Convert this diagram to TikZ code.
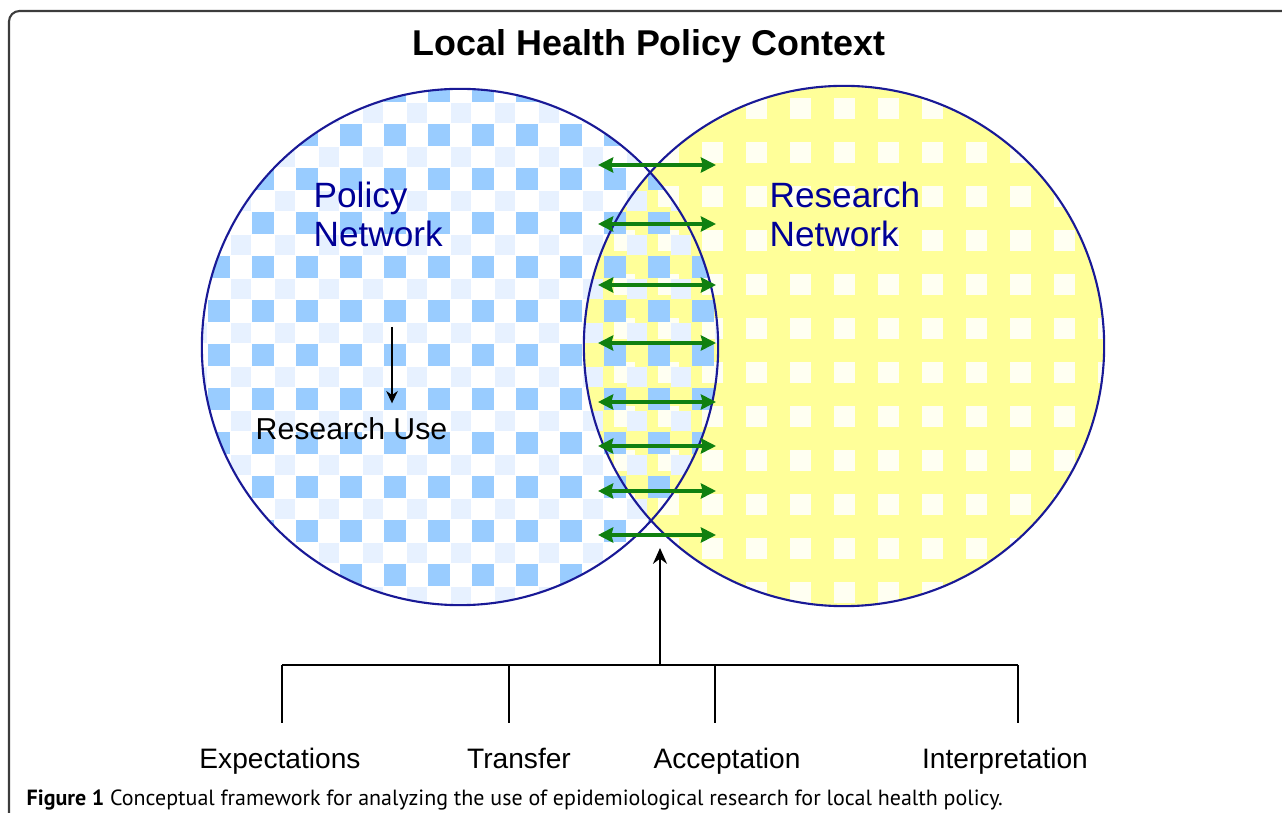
\documentclass[tikz,border=0pt]{standalone}
\usepackage{fontspec}
\setmainfont{Liberation Sans}
\newfontfamily\capfont{PT Sans}
\usetikzlibrary{positioning,arrows.meta}
\definecolor{netblue}{RGB}{0,0,150}
\definecolor{ringblue}{RGB}{25,25,150}
\definecolor{chkblue}{RGB}{153,204,255}
\definecolor{dotblue}{RGB}{231,241,255}
\definecolor{padyellow}{RGB}{255,255,153}
\definecolor{dotwhite}{RGB}{255,255,242}
\definecolor{linkgreen}{RGB}{16,128,16}
\definecolor{framegray}{RGB}{60,60,60}

\begin{document}
\begin{tikzpicture}[x=0.01cm,y=-0.01cm,>={Stealth[length=4.3pt,width=4.3pt,inset=0.5pt]},
    ring/.style={circle,draw=ringblue,line width=0.6pt,inner sep=0pt},
    net label/.style={text=netblue,anchor=base west,inner sep=0pt,font=\fontsize{10}{12}\selectfont},
    stage/.style={anchor=base,inner sep=0pt,font=\fontsize{8}{10}\selectfont},
    link/.style={<->,draw=linkgreen,line width=1.3pt},
    stem/.style={line width=0.55pt}]

    \clip (0,0) rectangle (1282,813);
    \draw[framegray,line width=0.6pt,rounded corners=3pt] (9,11) rectangle (1300,840);

    % research network: yellow with white squares
    \begin{scope}
        \clip (844,346) circle[radius=2.6cm];
        \fill[padyellow] (580,80) rectangle (1110,610);
        \foreach \i in {13,...,25}
            \foreach \j in {1,...,13}
                \fill[dotwhite] (42+44*\i,10+44*\j) rectangle ++(21,21);
    \end{scope}

    % policy network: blue checkerboard
    \begin{scope}
        \clip (460,347) circle[radius=2.58cm];
        \foreach \i in {3,...,16}
            \foreach \j in {0,...,13} {
                \fill[chkblue] (32+44*\i,36+44*\j) rectangle ++(22,22);
                \fill[dotblue] (55+44*\i,59+44*\j) rectangle ++(20,20);
            }
    \end{scope}

    \node[ring,minimum size=5.16cm] (policy) at (460,347) {};
    \node[ring,minimum size=5.2cm] (research) at (844,346) {};

    \node[anchor=base,font=\fontsize{10.2}{12}\selectfont\bfseries] (title) at (649,56) {Local Health Policy Context};

    \node[net label] (pol1) at (313,208) {Policy};
    \node[net label] (pol2) at (313,247) {Network};
    \node[net label] (res1) at (769,208) {Research};
    \node[net label] (res2) at (769,247) {Network};

    \node[anchor=base west,inner sep=0pt,font=\fontsize{8.6}{10}\selectfont] (use) at (255,440) {Research Use};
    \coordinate (usetop) at (392,327);
    \draw[->,line width=0.5pt,>={Stealth[length=3.5pt,width=3.3pt]}] (usetop) -- (usetop |- use.north) [shorten >=4pt];

    % exchange between the networks
    \foreach \y [count=\k] in {165,224,285,343,402,446,491,535} {
        \coordinate (gl\k) at (598,\y);
        \coordinate (gr\k) at (716,\y);
        \draw[link] (gl\k) -- (gr\k);
    }

    % stages
    \foreach \x [count=\k] in {282,509,715,1018} {
        \coordinate (top\k) at (\x,665);
        \coordinate (foot\k) at (\x,723);
        \draw[stem] (top\k) -- (foot\k);
    }
    \draw[stem] (top1) -- (top4);
    \coordinate (hub) at (660,665);
    \coordinate (lens) at (660,548);
    \draw[stem,->,>={Stealth[length=4.5pt,width=4pt]}] (hub) -- (lens);

    \node[stage] (expect) at (280,768) {Expectations};
    \node[stage] (transfer) at (519,768) {Transfer};
    \node[stage] (accept) at (727,768) {Acceptation};
    \node[stage] (interpret) at (1005,768) {Interpretation};

    \node[anchor=base west,inner sep=0pt,font=\capfont\fontsize{6.25}{8}\selectfont] (caption) at (26,805)
        {\textbf{Figure 1} Conceptual framework for analyzing the use of epidemiological research for local health policy.};
\end{tikzpicture}
\end{document}
